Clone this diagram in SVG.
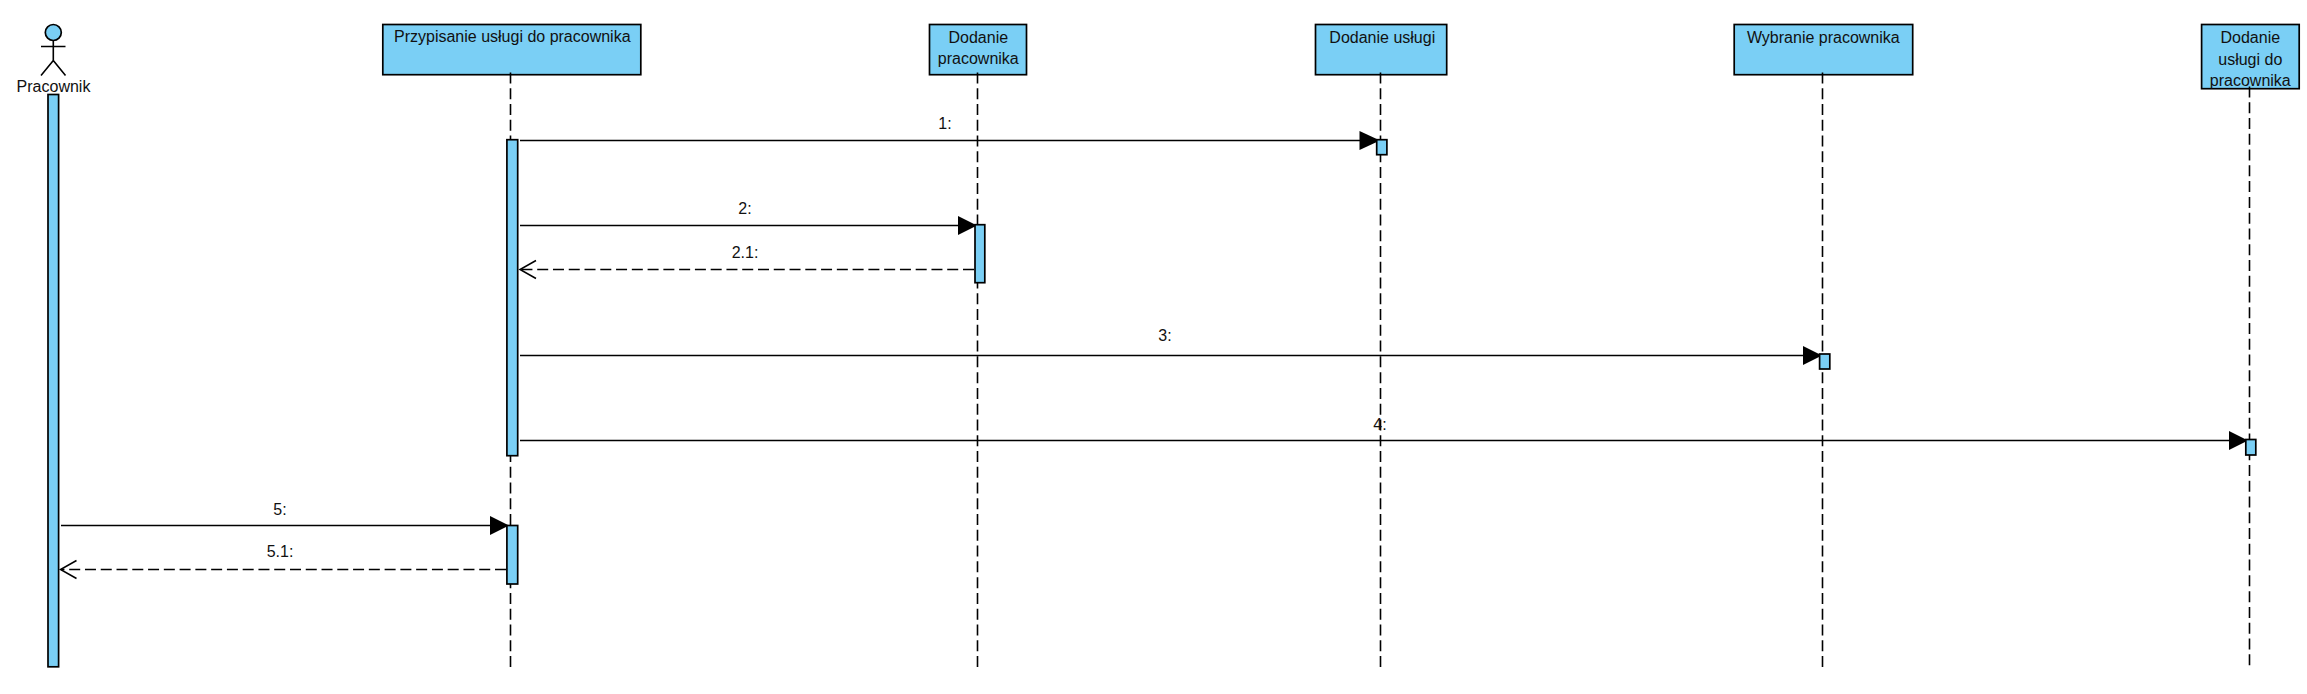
<svg xmlns="http://www.w3.org/2000/svg" width="2307" height="694" viewBox="0 0 2307 694">
<style>
text{font-family:"Liberation Sans",Arial,sans-serif;font-size:16px;fill:#111;text-anchor:middle}
.n{fill:#7ACFF5;stroke:#000;stroke-width:1.7}
.l{fill:none;stroke:#000;stroke-width:1.6;stroke-dasharray:11 4.77}
.m{fill:none;stroke:#000;stroke-width:1.5}
.s{fill:#000;stroke:none}
.r{fill:none;stroke:#000;stroke-width:1.5;stroke-dasharray:11 4.77}
.o{fill:none;stroke:#000;stroke-width:1.5}
.a{fill:none;stroke:#000;stroke-width:1.6}
</style>
<rect width="2307" height="694" fill="#fff"/>
<g id="n-pracownik">
<circle class="n" cx="53.3" cy="32.5" r="8"/>
<path class="a" d="M53.3 40.5V60.5M41 46.5H65.5M41 75.5L53.3 60.5L65.5 75.5"/>
<text x="53.5" y="91.5">Pracownik</text>
</g>
<g id="n-przypisanie">
<rect class="n" x="382.8" y="24.5" width="258" height="50.2"/>
<text x="512.3" y="41.5">Przypisanie usługi do pracownika</text>
</g>
<g id="n-dodanie-pracownika">
<rect class="n" x="929.5" y="24.5" width="97" height="50.2"/>
<text x="978.3" y="42.5">Dodanie</text>
<text x="978.3" y="63.5">pracownika</text>
</g>
<g id="n-dodanie-uslugi">
<rect class="n" x="1315.5" y="24.5" width="131.2" height="50.2"/>
<text x="1382.3" y="42.5">Dodanie usługi</text>
</g>
<g id="n-wybranie">
<rect class="n" x="1734.2" y="24.5" width="178.5" height="50.2"/>
<text x="1823.3" y="42.5">Wybranie pracownika</text>
</g>
<g id="n-dodanie-uslugi-do">
<rect class="n" x="2201.6" y="24.5" width="97.6" height="64.2"/>
<text x="2250.3" y="42.5">Dodanie</text>
<text x="2250.3" y="64.5">usługi do</text>
<text x="2250.3" y="85.5">pracownika</text>
</g>
<g id="connectors">
<path class="l" d="M510.5 72.5V667"/>
<path class="l" d="M977.5 72.5V667"/>
<path class="l" d="M1380.5 72.5V667"/>
<path class="l" d="M1822.5 72.5V667"/>
<path class="l" d="M2249.5 86.5V667"/>
<path class="m" d="M520 140.5H1362"/><path class="s" d="M1359.5 131L1380 140.5L1359.5 150Z"/>
<path class="m" d="M520 225.5H960"/><path class="s" d="M958 216L977 225.5L958 235Z"/>
<path class="r" d="M974 269.5H520"/><path class="o" d="M536 260.5L520 269.5L536 278.5"/>
<path class="m" d="M520 355.5H1805"/><path class="s" d="M1803 346L1822 355.5L1803 365Z"/>
<path class="m" d="M520 440.5H2231"/><path class="s" d="M2229 431L2248 440.5L2229 450Z"/>
<path class="m" d="M61 525.5H492"/><path class="s" d="M490 516L509 525.5L490 535Z"/>
<path class="r" d="M506 569.5H61"/><path class="o" d="M76.5 560.5L60.5 569.5L76.5 578.5"/>
<text x="945" y="128.5">1:</text>
<text x="745" y="214">2:</text>
<text x="745" y="257.5">2.1:</text>
<text x="1165" y="340.5">3:</text>
<text x="1380" y="430">4:</text>
<text x="280" y="514.5">5:</text>
<text x="280" y="556.5">5.1:</text>
</g>
<g id="activations">
<rect class="n" x="48" y="94.5" width="10.6" height="572.3"/>
<rect class="n" x="506.9" y="139.7" width="10.8" height="316"/>
<rect class="n" x="506.9" y="525.5" width="10.8" height="58.5"/>
<rect class="n" x="975" y="224.7" width="9.8" height="58"/>
<rect class="n" x="1376.7" y="139.7" width="10.2" height="15"/>
<rect class="n" x="1819.6" y="354" width="10.2" height="15"/>
<rect class="n" x="2245.8" y="439.5" width="10" height="15.5"/>
</g>
</svg>
